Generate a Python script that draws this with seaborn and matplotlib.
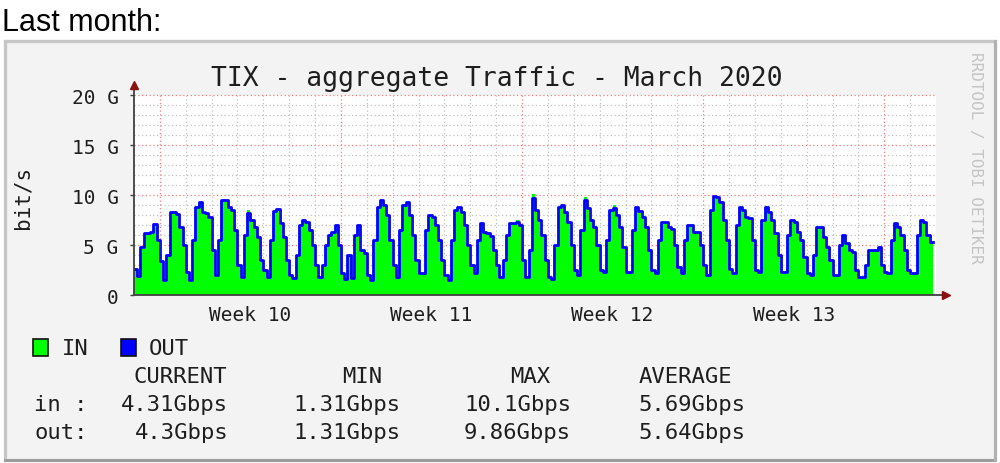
import numpy as np
import matplotlib
matplotlib.use('Agg')
import matplotlib.pyplot as plt
from matplotlib.patches import Rectangle
import seaborn as sns

# --- data: aggregate traffic, Gbit/s, one value per 3 hours, March 2020 ---
STEP_H = 3
mar01 = [2.6, 1.9, 4.8, 6.2, 6.2, 6.3, 7.1, 5.5]
week10 = [
    3.4, 1.5, 4.0, 8.3, 8.3, 8.1, 6.8, 5.0,   # Mar 2
    2.3, 1.5, 5.5, 8.8, 9.3, 8.3, 8.2, 7.8,   # Mar 3
    4.5, 2.0, 5.5, 9.5, 9.5, 8.8, 8.5, 6.5,   # Mar 4
    3.0, 1.8, 6.0, 8.2, 7.5, 6.8, 5.8, 3.5,   # Mar 5
    2.5, 1.8, 5.5, 8.4, 8.6, 7.2, 5.8, 3.5,   # Mar 6
    2.0, 1.7, 4.0, 7.0, 7.5, 7.3, 6.5, 5.0,   # Mar 7
    3.0, 1.8, 3.0, 5.0, 6.0, 6.3, 7.0, 5.0,   # Mar 8
]
week11 = [
    2.2, 1.6, 4.0, 1.7, 6.0, 7.0, 4.5, 4.2,
    2.0, 1.5, 5.5, 8.8, 9.5, 9.0, 8.0, 5.5,
    3.0, 1.8, 6.5, 9.0, 9.3, 8.0, 6.0, 3.5,
    2.2, 2.2, 6.5, 8.0, 7.8, 7.0, 5.5, 3.5,
    2.0, 1.5, 5.5, 8.5, 8.8, 8.3, 7.0, 5.0,
    3.0, 2.2, 5.5, 7.2, 6.3, 6.2, 5.9, 4.5,
    3.0, 1.8, 3.5, 6.0, 7.2, 7.2, 7.3, 7.0,
]
week12 = [
    3.5, 1.8, 4.5, 9.7, 8.5, 7.5, 6.0, 3.5,
    1.8, 1.6, 5.0, 8.8, 9.0, 8.3, 7.3, 5.0,
    2.5, 2.0, 6.5, 9.5, 8.7, 7.5, 6.8, 5.0,
    2.5, 2.3, 5.5, 8.5, 8.7, 8.0, 6.8, 4.8,
    2.3, 2.3, 6.5, 8.8, 8.4, 7.8, 6.8, 4.5,
    2.5, 2.2, 5.5, 7.3, 7.3, 6.8, 6.6, 5.0,
    2.8, 2.2, 5.5, 7.0, 7.0, 6.3, 6.3, 5.0,
]
week13 = [
    3.0, 2.0, 8.5, 9.86, 9.8, 9.3, 7.5, 5.5,
    2.6, 2.2, 7.0, 8.8, 8.5, 7.8, 7.7, 5.5,
    2.5, 2.3, 7.5, 8.8, 8.3, 7.5, 6.2, 4.0,
    2.3, 2.3, 6.0, 7.5, 7.3, 6.3, 5.5, 3.8,
    2.2, 2.0, 4.0, 6.8, 6.8, 5.8, 4.8, 3.5,
    2.0, 2.0, 5.0, 6.0, 5.2, 4.5, 4.3, 2.5,
    1.8, 1.8, 3.0, 4.5, 4.5, 4.5, 4.8, 3.0,
]
week14 = [
    2.3, 2.2, 5.5, 7.2, 6.8, 6.0, 4.5, 2.5,
    2.2, 2.2, 6.0, 7.5, 7.3, 6.0, 5.3,
]
# spots where IN pokes above OUT (sample index -> IN value)
in_peaks = {35: 8.5, 118: 7.5, 123: 10.1, 139: 9.8, 148: 9.0}

y_ticks = [0, 5, 10, 15, 20]
y_labels = ['0', '5 G', '10 G', '15 G', '20 G']
week_labels = ['Week 10', 'Week 11', 'Week 12', 'Week 13']
mondays = [1, 8, 15, 22, 29]

legend_rows = [
    ['in :', '4.31Gbps', '1.31Gbps', '10.1Gbps', '5.69Gbps'],
    ['out:', '4.3Gbps', '1.31Gbps', '9.86Gbps', '5.64Gbps'],
]
legend_head = ['CURRENT', 'MIN', 'MAX', 'AVERAGE']

out_vals = np.array(mar01 + week10 + week11 + week12 + week13 + week14)
in_vals = out_vals.copy()
for i, v in in_peaks.items():
    in_vals[i] = v

n = len(out_vals)
edges = np.arange(n + 1) * STEP_H / 24.0
in_ext = np.append(in_vals, in_vals[-1])
out_ext = np.append(out_vals, out_vals[-1])

MONO = 'DejaVu Sans Mono'
TXT = '#1e1e1e'
W, H = 1000, 464

fig = plt.figure(figsize=(10, 4.64), dpi=100)
fig.patch.set_facecolor('white')

def fx(x):
    return x / W

def fy(y):
    return 1 - y / H

# rrd canvas box
fig.patches.append(Rectangle((fx(5), fy(461)), fx(990), 419 / H, transform=fig.transFigure,
                             facecolor='#f3f3f3', edgecolor='#c6c6c6', lw=2.4, zorder=-5))
fig.lines.append(plt.Line2D([fx(5), fx(995)], [fy(461), fy(461)], transform=fig.transFigure,
                            color='#9a9a9a', lw=2.0, zorder=-4))
fig.lines.append(plt.Line2D([fx(995), fx(995)], [fy(461), fy(42)], transform=fig.transFigure,
                            color='#b0b0b0', lw=2.0, zorder=-4))

fig.text(fx(2), fy(31), 'Last month:', fontsize=22, family='Liberation Sans', va='baseline')

ax = fig.add_axes([fx(134), fy(296), fx(802), 200 / H])
ax.set_zorder(5)
ax.set_facecolor('white')
ax.set_xlim(0, 31)
ax.set_ylim(0, 20)

# grid
for g in range(1, 20):
    if g % 5:
        ax.axhline(g, color='#c2c2c2', lw=0.9, ls=(0, (1, 2)), zorder=1)
for g in [5, 10, 15, 20]:
    ax.axhline(g, color='#ff7a7a', lw=0.9, ls=(0, (1, 2)), zorder=1, clip_on=False)
for d in range(1, 31):
    if d in mondays:
        ax.axvline(d, color='#ff7a7a', lw=0.9, ls=(0, (1, 2)), zorder=1)
    else:
        ax.axvline(d, color='#c2c2c2', lw=0.9, ls=(0, (1, 2)), zorder=1)

ax.fill_between(edges, in_ext, step='post', color='#00ff00', lw=0, zorder=2)
sns.lineplot(x=edges, y=out_ext, drawstyle='steps-post', color='#0000ff', lw=2.0,
             estimator=None, ax=ax, zorder=3)

for s in ax.spines.values():
    s.set_visible(False)
# axes with arrows
ax.plot([0, 0], [0, 20.9], color='#404040', lw=1.3, clip_on=False, zorder=4)
ax.plot([0], [21.0], marker='^', color='#8b1010', ms=6, clip_on=False, zorder=4)
ax.plot([0, 31.3], [0, 0], color='#404040', lw=1.3, clip_on=False, zorder=4)
ax.plot([31.4], [0], marker='>', color='#8b1010', ms=6, clip_on=False, zorder=4)

ax.set_yticks(y_ticks)
ax.set_yticklabels(y_labels, family=MONO, fontsize=14, color=TXT)
ax.set_xticks([4.5 + 7 * k for k in range(4)])
ax.set_xticklabels(week_labels, family=MONO, fontsize=14, color=TXT)
ax.tick_params(axis='y', length=3, width=1, color='#404040', pad=8)
ax.tick_params(axis='x', length=0, pad=7)
ax.set_xlabel('')
ax.set_ylabel('')

fig.text(fx(497), fy(79), 'TIX - aggregate Traffic - March 2020', family=MONO, fontsize=19,
         ha='center', va='center', color=TXT)
fig.text(fx(23), fy(197), 'bit/s', family=MONO, fontsize=15, rotation=90,
         ha='center', va='center', color=TXT)
fig.text(fx(976), fy(158), 'RRDTOOL / TOBI OETIKER', family=MONO, fontsize=11.5, rotation=270,
         ha='center', va='center', color='#c4c4c4')

# legend
fig.patches.append(Rectangle((fx(33), fy(357)), fx(15), 17 / H, transform=fig.transFigure,
                             facecolor='#00ff00', edgecolor='#111111', lw=1.2))
fig.patches.append(Rectangle((fx(121), fy(357)), fx(15), 17 / H, transform=fig.transFigure,
                             facecolor='#0000ff', edgecolor='#111111', lw=1.2))
fig.text(fx(62), fy(349), 'IN', family=MONO, fontsize=16, va='center', color=TXT)
fig.text(fx(149), fy(349), 'OUT', family=MONO, fontsize=16, va='center', color=TXT)

head_x = [180, 362, 530, 685]
for t, x in zip(legend_head, head_x):
    fig.text(fx(x), fy(377), t, family=MONO, fontsize=16, ha='center', va='center', color=TXT)
col_right = [228, 400, 571, 745]
for row, y in zip(legend_rows, [405, 433]):
    fig.text(fx(34), fy(y), row[0], family=MONO, fontsize=16, va='center', color=TXT)
    for t, x in zip(row[1:], col_right):
        fig.text(fx(x), fy(y), t, family=MONO, fontsize=16, ha='right', va='center', color=TXT)

fig.savefig('out.png', dpi=100)
